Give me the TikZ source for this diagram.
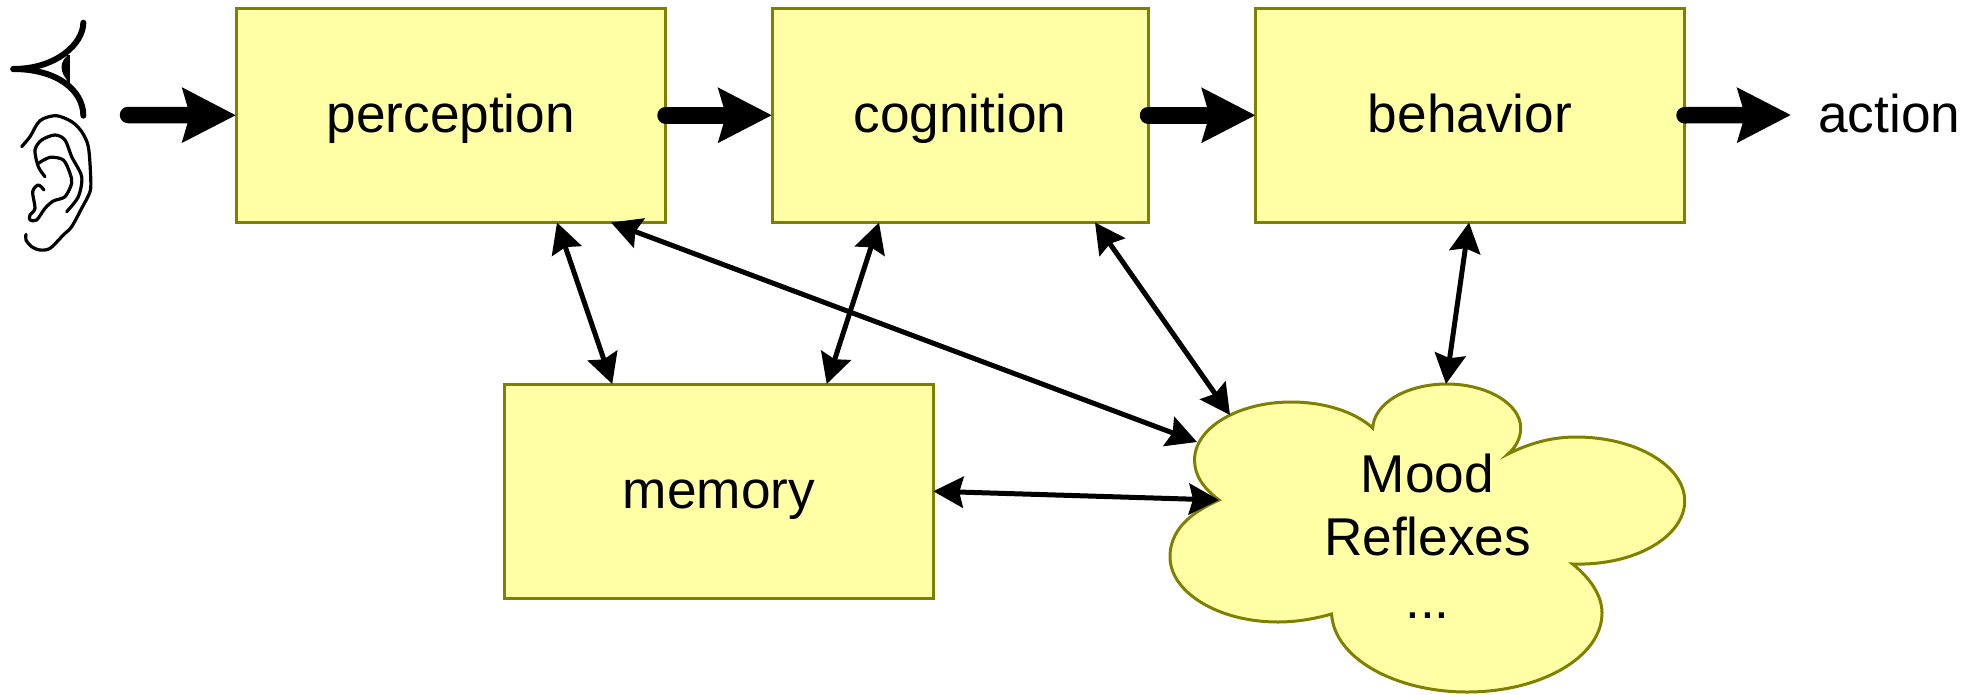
\documentclass[tikz,border=0pt]{standalone}
\usepackage{fontspec}
\setmainfont{Liberation Sans}
\usetikzlibrary{arrows.meta}
\definecolor{boxfill}{HTML}{FFFFA6}
\definecolor{boxline}{HTML}{808000}
\tikzset{
  x=1pt,y=-1pt,
  labelfont/.style={font=\fontsize{53.2pt}{63pt}\selectfont},
  block/.style={draw=boxline,fill=boxfill,line width=3pt,inner sep=0pt,outer sep=0pt,
    text height=38pt,text depth=4pt,labelfont,line join=miter},
  cloudshape/.style={draw=boxline,fill=boxfill,line width=3pt,line join=miter},
  flow/.style={line width=16.5pt,line cap=round,-{Stealth[length=53pt,width=53pt,inset=7pt]}},
  link/.style={line width=5pt,{Stealth[length=30pt,width=31pt,inset=4pt]}-{Stealth[length=30pt,width=31pt,inset=4pt]}},
  sense/.style={line width=3.2pt,line cap=round,line join=round},
  senseb/.style={line width=6pt,line cap=round,line join=round},
}
\begin{document}
\begin{tikzpicture}
\useasboundingbox (0,0) rectangle (1980,694);
% boxes
\node[block,minimum width=429.5pt,minimum height=214.5pt] (perception) at (450.75,115.25) {perception};
\node[block,minimum width=376pt,minimum height=214.5pt] (cognition) at (960,115.25) {cognition};
\node[block,minimum width=429pt,minimum height=214.5pt] (behavior) at (1470,115.25) {behavior};
\node[block,minimum width=428.5pt,minimum height=214.5pt] (memory) at (719,491.25) {memory};
% cloud
\draw[cloudshape] (1219,500)
  .. controls (1203,488) and (1194.5,475) .. (1194.5,460)
  .. controls (1194.5,428) and (1238,402) .. (1291,402)
  .. controls (1325,402) and (1355,412) .. (1372.7,428)
  .. controls (1374,403) and (1407,384) .. (1447,384)
  .. controls (1487,384) and (1520.7,404) .. (1520.7,428)
  .. controls (1520.7,438) and (1516,447) .. (1508,454)
  .. controls (1530,443) and (1552,437) .. (1576,437)
  .. controls (1636,437) and (1684.7,466) .. (1684.7,501)
  .. controls (1684.7,536) and (1636,566) .. (1572.5,564)
  .. controls (1590,578) and (1602,595) .. (1602,613)
  .. controls (1602,657) and (1541,692) .. (1467,692)
  .. controls (1395,692) and (1334,658) .. (1331.6,614)
  .. controls (1314,619) and (1296,622) .. (1278,622)
  .. controls (1218,622) and (1170,592) .. (1170,557)
  .. controls (1170,530) and (1190,513) .. (1219,500) -- cycle;
\node[labelfont,align=center,inner sep=0pt,anchor=base] (mood) at (1427.5,618.5) {Mood\\Reflexes\\...};
% text and free ends
\node[labelfont,inner sep=0pt,anchor=base west] (action) at (1818,132) {action};
\coordinate (senses) at (128,115);
\coordinate (actionend) at (1791,115);
\coordinate (cloudA) at (1197,442);
\coordinate (cloudB) at (1230,415);
\coordinate (cloudC) at (1446,384);
\coordinate (cloudD) at (1219,500);
% main flow
\draw[flow] (senses) -- (perception.west);
\draw[flow] (perception.east) -- (cognition.west);
\draw[flow] (cognition.east) -- (behavior.west);
\draw[flow] (behavior.east) -- (actionend);
% links
\draw[link] ([xshift=321pt]perception.south west) -- ([xshift=107.5pt]memory.north west);
\draw[link] ([xshift=375pt]perception.south west) -- (cloudA);
\draw[link] ([xshift=107pt]cognition.south west) -- ([xshift=322pt]memory.north west);
\draw[link] ([xshift=323pt]cognition.south west) -- (cloudB);
\draw[link] ([xshift=213.5pt]behavior.south west) -- (cloudC);
\draw[link] (memory.east) -- (cloudD);
% eye and ear
\begin{scope}[x=0.33333pt,y=-0.33333pt]
\draw[senseb] (250,68) .. controls (250,130) and (170,207) .. (40,207);
\draw[senseb] (40,207) .. controls (170,207) and (250,270) .. (250,347);
\draw[line width=3.5pt] (205,165) -- (205,250);
\fill (205,165) .. controls (178,185) and (178,215) .. (205,245) -- cycle;
\draw[sense] plot[smooth,tension=.5] coordinates {(65,440) (90,410) (120,362) (168,347) (215,365) (245,395) (265,440) (272,530) (270,575) (245,625) (215,680) (190,705) (150,745) (120,750) (95,740) (78,720) (78,703)};
\draw[sense] plot[smooth,tension=.5] coordinates {(135,530) (115,500) (105,450) (125,420) (165,405) (195,420) (215,470) (245,530) (235,590) (200,635)};
\draw[sense] plot[smooth,tension=.5] coordinates {(115,490) (150,472) (190,480) (210,520) (215,550) (195,590) (160,603) (135,625) (110,660) (90,660) (90,645) (105,625) (98,575) (115,555) (132,570)};
\end{scope}
\end{tikzpicture}
\end{document}
